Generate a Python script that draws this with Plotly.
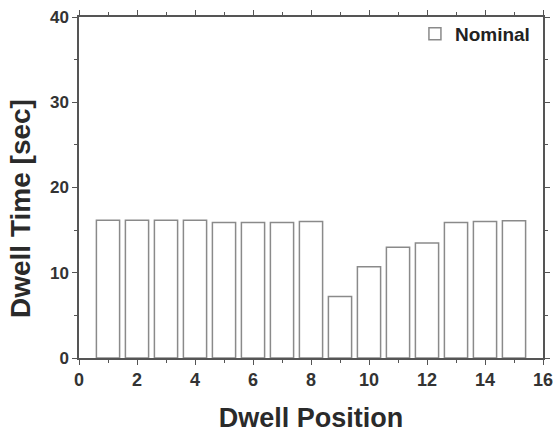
import plotly.graph_objects as go

positions = list(range(1, 16))
dwell_times = [16.15, 16.15, 16.15, 16.15, 15.9, 15.9, 15.9, 16.0, 7.2, 10.7, 13.0, 13.5, 15.9, 16.0, 16.1]
series_name = "Nominal"
x_ticks = [0, 2, 4, 6, 8, 10, 12, 14, 16]
y_ticks = [0, 10, 20, 30, 40]
x_title = "Dwell Position"
y_title = "Dwell Time [sec]"

font_family = "Liberation Sans, Arial, sans-serif"

fig = go.Figure()
fig.add_trace(go.Bar(
    x=positions, y=dwell_times, name="<b>" + series_name + "</b>", width=0.8,
    marker=dict(color="white", line=dict(color="#8a8a8a", width=1.5)),
    showlegend=True,
))

axis_common = dict(
    showline=True, linecolor="#555", linewidth=1.5, mirror="ticks",
    ticks="outside", ticklen=5, tickwidth=1.2, tickcolor="#555",
    showgrid=False, zeroline=False, automargin=False,
)

fig.update_xaxes(
    range=[0, 16], tickvals=x_ticks, ticktext=[f"<b>{v}</b>" for v in x_ticks],
    tickfont=dict(family=font_family, size=18, color="#333"),
    title=dict(text=x_title, font=dict(family=font_family, size=27, color="#2a2a2a", weight="bold"), standoff=20),
    minor=dict(dtick=1, ticks="outside", ticklen=3, tickcolor="#555"),
    **axis_common,
)
fig.update_yaxes(
    range=[0, 40], tickvals=y_ticks, ticktext=[f"<b>{v}</b>" for v in y_ticks],
    tickfont=dict(family=font_family, size=17, color="#333"),
    minor=dict(dtick=5, ticks="outside", ticklen=3, tickcolor="#555"),
    **axis_common,
)

fig.add_annotation(
    text=f"<b>{y_title}</b>", textangle=-90, showarrow=False,
    xref="paper", yref="paper", x=-0.125, y=0.437, xanchor="center", yanchor="middle",
    font=dict(family=font_family, size=28, color="#2a2a2a"),
)

fig.update_layout(
    width=554, height=433,
    margin=dict(l=79, r=11, t=17, b=75),
    paper_bgcolor="white", plot_bgcolor="white",
    legend=dict(x=0.724, y=1.006, xanchor="left", yanchor="top",
                bgcolor="rgba(0,0,0,0)",
                font=dict(family=font_family, size=19, color="#222")),
)

fig.write_html("out.html")
